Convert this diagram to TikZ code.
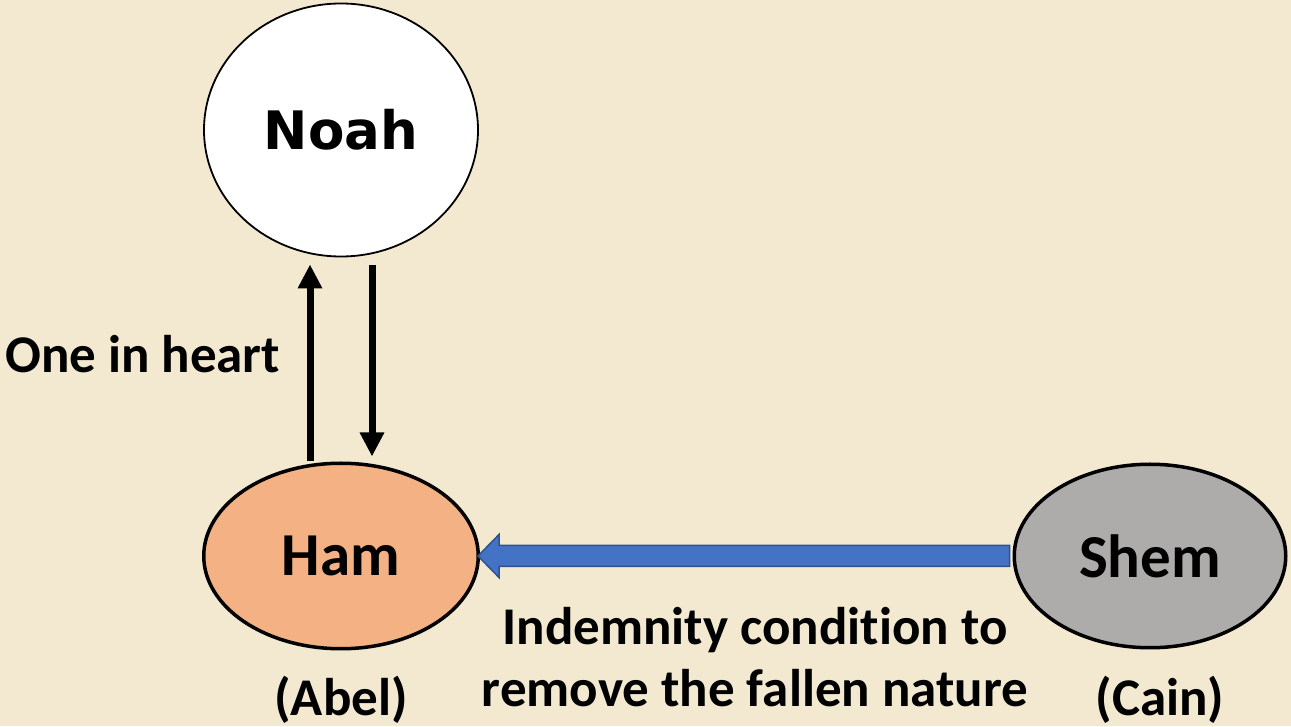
\documentclass[tikz,border=0pt]{standalone}
\usepackage{fontspec}
\setmainfont{Carlito}[Ligatures=NoCommon]
\newfontfamily\noahfont{DejaVu Sans}
\usetikzlibrary{shapes.geometric,arrows.meta,calc,positioning}
\definecolor{parchment}{HTML}{F3E9D0}
\definecolor{hamfill}{HTML}{F4B183}
\definecolor{shemfill}{HTML}{AEABAB}
\definecolor{indblue}{HTML}{4472C4}
\definecolor{indedge}{HTML}{2F528F}
\tikzset{
  person/.style={ellipse,draw,line width=3.5pt,inner sep=0pt,font=\fontsize{61}{72}\selectfont\bfseries},
  caption/.style={inner sep=0pt,font=\fontsize{53}{62}\selectfont\bfseries},
  heartarrow/.style={line width=7pt,-{Triangle[length=24pt,width=23pt]}},
  indarrow/.style={fill=indblue,draw=indedge,line width=1.5pt,line join=miter}
}
\begin{document}
\begin{tikzpicture}[x=1pt,y=1pt]
    \fill[parchment] (0,0) rectangle (1291,726);
    \useasboundingbox (0,0) rectangle (1291,726);
    \node[ellipse,draw,fill=white,line width=1.8pt,inner sep=0pt,minimum width=274pt,minimum height=253pt,font=\fontsize{53}{62}\noahfont\bfseries] (Noah) at (341,596) {Noah};
    \node[person,fill=hamfill,minimum width=274.5pt,minimum height=185.5pt] (Ham) at (341,170) {Ham};
    \node[person,fill=shemfill,minimum width=271.5pt,minimum height=183.5pt] (Shem) at (1150,170) {Shem};
    \node[caption,anchor=base west] (heart) at (5,353) {One in heart};
    \node[caption,align=center] (indemnity) at (755,69) {Indemnity condition to\\remove the fallen nature};
    \node[caption,anchor=base] (abel) at (341,11) {(Abel)};
    \node[caption,anchor=base] (cain) at (1160,11) {(Cain)};
    \draw[heartarrow,shorten >=7pt] ([xshift=-31pt]Ham.north) -- ([xshift=-31pt]Noah.south);
    \draw[heartarrow,shorten <=8pt,shorten >=5pt] ([xshift=31pt]Noah.south) -- ([xshift=31pt]Ham.north);
    \draw[indarrow] let \p1=(Ham.east), \p2=(Shem.west) in
      (\x1-2pt,\y1) -- ++(21pt,21.5pt) -- ++(0,-11pt) -- (\x2-3pt,\y1+10.5pt)
      -- (\x2-3pt,\y1-10.5pt) -- (\x1+19pt,\y1-10.5pt) -- ++(0,-11pt) -- cycle;
\end{tikzpicture}
\end{document}
